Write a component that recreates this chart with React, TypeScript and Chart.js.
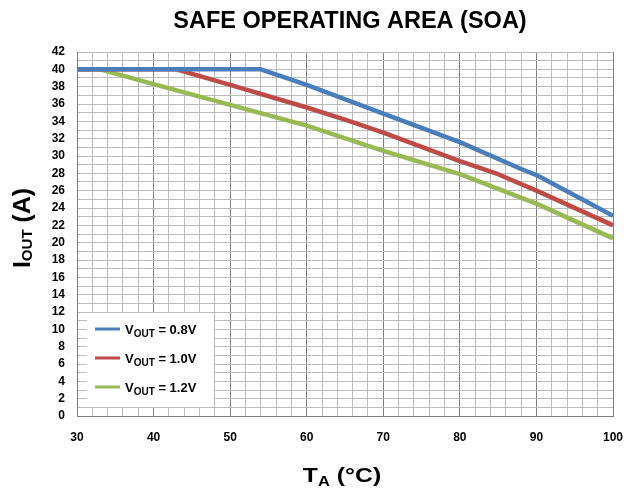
import React, { useEffect, useRef } from 'react';
import { Chart, registerables } from 'chart.js';

Chart.register(...registerables);

const CHART_TITLE = 'SAFE OPERATING AREA (SOA)';
const X_TICKS = [30, 40, 50, 60, 70, 80, 90, 100];
const Y_TICK_STEP = 2;

const tempBlue = [30, 54, 60, 70, 80, 88, 90, 100];
const ioutBlue = [40, 40, 38.2, 34.9, 31.6, 28.5, 27.8, 23.1];

const tempRed = [30, 43, 50, 60, 65, 70, 80, 85, 90, 100];
const ioutRed = [40, 40, 38.2, 35.6, 34.2, 32.7, 29.4, 27.9, 26.0, 22.0];

const tempGreen = [30, 33, 40, 50, 60, 70, 80, 90, 100];
const ioutGreen = [40, 40, 38.3, 35.9, 33.5, 30.6, 27.9, 24.5, 20.5];

const seriesNames = ['VOUT = 0.8V', 'VOUT = 1.0V', 'VOUT = 1.2V'];
const legendValues = [' = 0.8V', ' = 1.0V', ' = 1.2V'];
const seriesColors = ['#4A7EBB', '#BE4B48', '#98B954'];

const FONT = 'Arial, "Liberation Sans", Helvetica, sans-serif';

function pts(xs: number[], ys: number[]) {
  return xs.map((x, i) => ({ x, y: ys[i] }));
}

type Part = { t: string; size: number; dy: number };

function richWidth(ctx: CanvasRenderingContext2D, parts: Part[]) {
  let w = 0;
  for (const p of parts) {
    ctx.font = `bold ${p.size}px ${FONT}`;
    w += ctx.measureText(p.t).width;
  }
  return w;
}

function drawRich(ctx: CanvasRenderingContext2D, parts: Part[], x: number, y: number) {
  let cx = x;
  for (const p of parts) {
    ctx.font = `bold ${p.size}px ${FONT}`;
    ctx.fillText(p.t, cx, y + p.dy);
    cx += ctx.measureText(p.t).width;
  }
}

const decorPlugin = {
  id: 'decor',
  afterDatasetsDraw(chart: any) {
    const ctx: CanvasRenderingContext2D = chart.ctx;
    const ca = chart.chartArea;
    ctx.save();
    ctx.fillStyle = '#000';
    ctx.textBaseline = 'alphabetic';
    ctx.textAlign = 'left';

    // Legend
    const lx = ca.left + 10;
    const ly = 313;
    ctx.fillStyle = '#fff';
    ctx.fillRect(lx, ly, 127, 94);
    chart.data.datasets.forEach((ds: any, i: number) => {
      const yy = ly + 16 + i * 29;
      ctx.strokeStyle = ds.borderColor;
      ctx.lineWidth = 3;
      ctx.beginPath();
      ctx.moveTo(lx + 8, yy);
      ctx.lineTo(lx + 33, yy);
      ctx.stroke();
      ctx.fillStyle = '#000';
      drawRich(
        ctx,
        [
          { t: 'V', size: 13, dy: 0 },
          { t: 'OUT', size: 10, dy: 3 },
          { t: legendValues[i], size: 13, dy: 0 },
        ],
        lx + 38,
        yy + 5
      );
    });

    // Title
    ctx.fillStyle = '#000';
    ctx.font = `bold 23.5px ${FONT}`;
    ctx.textAlign = 'center';
    ctx.fillText(CHART_TITLE, 350, 28);
    ctx.textAlign = 'left';

    // X axis title
    const xParts: Part[] = [
      { t: 'T', size: 21, dy: 0 },
      { t: 'A', size: 14, dy: 4 },
      { t: ' (°C)', size: 21, dy: 0 },
    ];
    const xw = richWidth(ctx, xParts);
    ctx.save();
    ctx.translate(342, 482);
    ctx.scale(1.18, 1);
    drawRich(ctx, xParts, -xw / 2, 0);
    ctx.restore();

    // Y axis title
    const yParts: Part[] = [
      { t: 'I', size: 23, dy: 0 },
      { t: 'OUT', size: 14, dy: 2 },
      { t: ' (A)', size: 23, dy: 0 },
    ];
    const yw = richWidth(ctx, yParts);
    ctx.translate(30, 228);
    ctx.rotate(-Math.PI / 2);
    ctx.scale(1.08, 1);
    drawRich(ctx, yParts, -yw / 2, 0);
    ctx.restore();
  },
};

export default function App() {
  const ref = useRef<HTMLCanvasElement | null>(null);

  useEffect(() => {
    document.body.style.margin = '0';
    const canvas = ref.current;
    if (!canvas) return;
    const data = [pts(tempBlue, ioutBlue), pts(tempRed, ioutRed), pts(tempGreen, ioutGreen)];
    const chart = new Chart(canvas, {
      type: 'line',
      data: {
        datasets: data.map((d, i) => ({
          label: seriesNames[i],
          data: d,
          borderColor: seriesColors[i],
          backgroundColor: seriesColors[i],
          borderWidth: 4.5,
          pointRadius: 0,
          tension: 0,
          fill: false,
          borderJoinStyle: 'round' as const,
        })),
      },
      options: {
        responsive: false,
        animation: false,
        layout: { padding: { left: 0, right: 21, top: 52, bottom: 0 } },
        plugins: {
          legend: { display: false },
          title: { display: false },
          tooltip: { enabled: false },
        },
        scales: {
          x: {
            type: 'linear',
            min: X_TICKS[0],
            max: X_TICKS[X_TICKS.length - 1],
            afterFit: (s: any) => {
              s.height = 77;
              s.paddingLeft = 0;
              s.paddingRight = 0;
            },
            afterBuildTicks: (s: any) => {
              const t: any[] = [];
              for (let v = X_TICKS[0]; v <= X_TICKS[X_TICKS.length - 1]; v += 2) t.push({ value: v });
              s.ticks = t;
            },
            ticks: {
              autoSkip: false,
              maxRotation: 0,
              padding: 14,
              color: '#000',
              font: { family: FONT, size: 12, weight: 'bold' },
              callback: (v: any) => (X_TICKS.includes(Number(v)) ? String(v) : ''),
            },
            grid: {
              drawTicks: false,
              lineWidth: 1,
              color: (c: any) => (c.tick && X_TICKS.includes(c.tick.value) ? '#7F7F7F' : '#BCBCBC'),
            },
            border: { display: true, color: '#7F7F7F', width: 1 },
          },
          y: {
            type: 'linear',
            min: 0,
            max: 42,
            afterFit: (s: any) => {
              s.width = 77;
              s.paddingTop = 0;
              s.paddingBottom = 0;
            },
            ticks: {
              stepSize: 1,
              autoSkip: false,
              padding: 12,
              color: '#000',
              font: { family: FONT, size: 12, weight: 'bold' },
              callback: (v: any) => (Number(v) % Y_TICK_STEP === 0 ? String(v) : ''),
            },
            grid: {
              drawTicks: false,
              lineWidth: 1,
              color: '#BCBCBC',
            },
            border: { display: true, color: '#7F7F7F', width: 1 },
          },
        },
      },
      plugins: [decorPlugin],
    });
    return () => chart.destroy();
  }, []);

  return (
    <div style={{ width: 634, height: 493 }}>
      <canvas ref={ref} width={634} height={493} style={{ display: 'block' }} />
    </div>
  );
}
